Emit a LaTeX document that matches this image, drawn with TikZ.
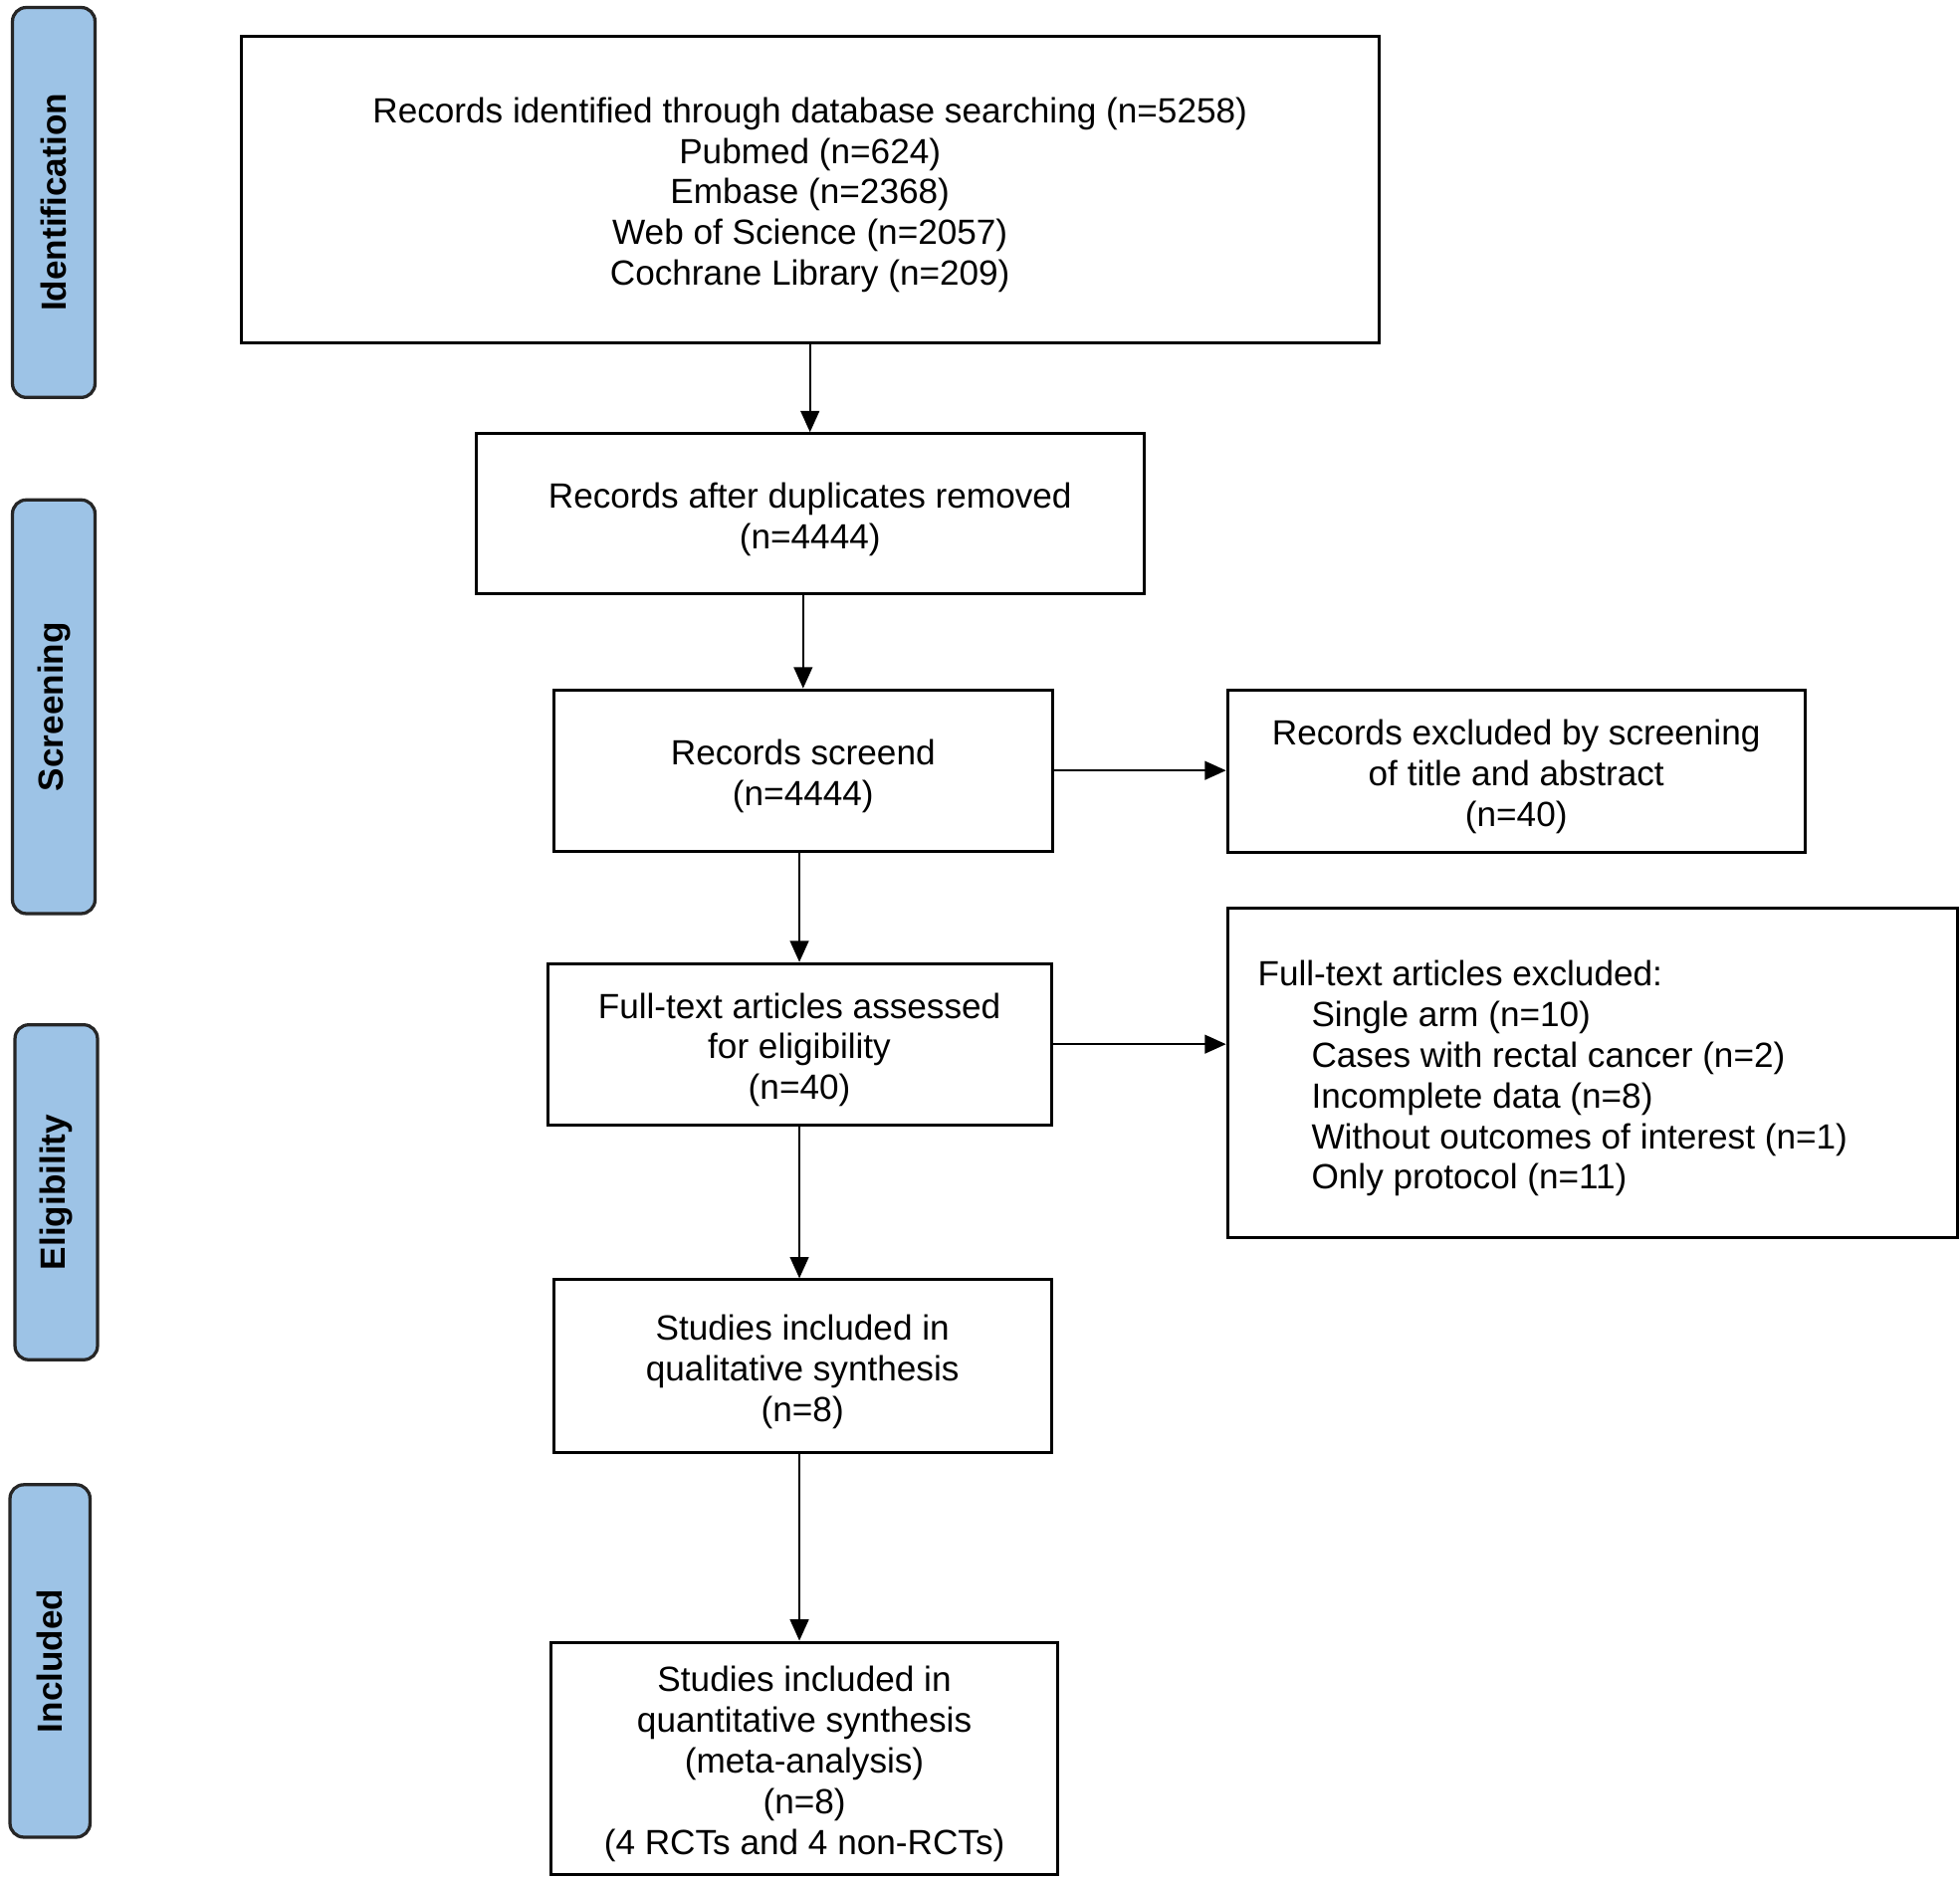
\documentclass[tikz,border=0pt]{standalone}
\usepackage{fontspec}
\setmainfont{Liberation Sans}
\usetikzlibrary{arrows.meta}
\definecolor{sidebl}{RGB}{157,195,230}
\tikzset{
  flowbox/.style={draw=black, line width=2.4pt, rectangle, inner sep=0pt},
  boxtext/.style={inner sep=0pt, align=center, yshift=-4.5pt,
    font=\fontsize{28}{32.5}\selectfont},
  sidebar/.style={draw=black!85, fill=sidebl, line width=2.6pt, rounded corners=11pt, inner sep=0pt},
  sidelabel/.style={rotate=90, font=\fontsize{28}{30}\selectfont\bfseries, inner sep=0pt},
  arr/.style={line width=1.4pt, -{Triangle[length=17pt,width=15pt]}},
  plaintext/.style={inner sep=0pt, align=left, font=\fontsize{28}{32.5}\selectfont}
}
\begin{document}
\begin{tikzpicture}[x=1pt,y=-1pt]
\useasboundingbox (0,0) rectangle (1568,1503.5);
\fill[white] (0,0) rectangle (1568,1503.5);

% sidebars
\node[sidebar, minimum width=66pt, minimum height=312pt] (sid) at (43,162) {};
\node[sidelabel] (sidl) at (sid.center) {Identification};
\node[sidebar, minimum width=66pt, minimum height=331pt] (sscr) at (43,565.5) {};
\node[sidelabel] (sscrl) at (sscr.center) {Screening};
\node[sidebar, minimum width=66pt, minimum height=268pt] (selig) at (45,954) {};
\node[sidelabel] (seligl) at (selig.center) {Eligibility};
\node[sidebar, minimum width=64pt, minimum height=282pt] (sinc) at (40,1329) {};
\node[sidelabel] (sincl) at (sinc.center) {Included};

% main boxes
\node[flowbox, minimum width=910pt, minimum height=245pt] (b1) at (648,151.5) {};
\node[boxtext] (b1t) at (b1.center)
  {Records identified through database searching (n=5258)\\Pubmed (n=624)\\Embase (n=2368)\\Web of Science (n=2057)\\Cochrane Library (n=209)};
\node[flowbox, minimum width=534pt, minimum height=128pt] (b2) at (648,411) {};
\node[boxtext] (b2t) at (b2.center) {Records after duplicates removed\\(n=4444)};
\node[flowbox, minimum width=399pt, minimum height=129pt] (b3) at (642.5,616.5) {};
\node[boxtext] (b3t) at (b3.center) {Records screend\\(n=4444)};
\node[flowbox, minimum width=462pt, minimum height=130pt] (r1) at (1213,617) {};
\node[boxtext] (r1t) at (r1.center) {Records excluded by screening\\of title and abstract\\(n=40)};
\node[flowbox, minimum width=403pt, minimum height=129pt] (b4) at (639.5,835.5) {};
\node[boxtext] (b4t) at (b4.center) {Full-text articles assessed\\for eligibility\\(n=40)};
\node[flowbox, minimum width=584pt, minimum height=263pt] (r2) at (1274,858.5) {};
\node[plaintext, anchor=west] (r2t) at (1006,863)
  {Full-text articles excluded:\\
   \hspace*{43pt}Single arm (n=10)\\
   \hspace*{43pt}Cases with rectal cancer (n=2)\\
   \hspace*{43pt}Incomplete data (n=8)\\
   \hspace*{43pt}Without outcomes of interest (n=1)\\
   \hspace*{43pt}Only protocol (n=11)};
\node[flowbox, minimum width=398pt, minimum height=138pt] (b5) at (642,1093) {};
\node[boxtext] (b5t) at (b5.center) {Studies included in\\qualitative synthesis\\(n=8)};
\node[flowbox, minimum width=405pt, minimum height=186pt] (b6) at (643.5,1407) {};
\node[boxtext] (b6t) at (b6.center)
  {Studies included in\\quantitative synthesis\\(meta-analysis)\\(n=8)\\(4 RCTs and 4 non-RCTs)};

% connectors
\draw[arr] (b1.south) -- (b2.north);
\draw[arr] (b3.north |- b2.south) -- (b3.north);
\draw[arr] (b3.east) -- (r1.west |- b3.east);
\draw[arr] (b4.north |- b3.south) -- (b4.north);
\draw[arr] (b4.east) -- (r2.west |- b4.east);
\draw[arr] (b4.south) -- (b4.south |- b5.north);
\draw[arr] (b4.south |- b5.south) -- (b4.south |- b6.north);
\end{tikzpicture}
\end{document}
